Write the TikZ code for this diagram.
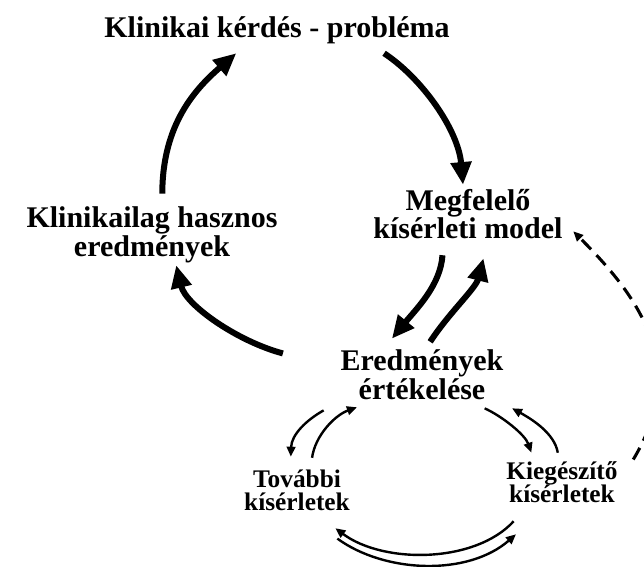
\documentclass[tikz,border=0pt]{standalone}
\usepackage{fontspec}
\setmainfont{Liberation Serif}
\usetikzlibrary{arrows.meta}
\begin{document}
\begin{tikzpicture}[x=0.75pt,y=-0.75pt,
  lbl/.style={font=\bfseries\fontsize{22.5}{18.75}\selectfont,align=center,inner sep=0pt},
  sml/.style={font=\bfseries\fontsize{19}{17.5}\selectfont,align=center,inner sep=0pt},
  bigarr/.style={line width=4.5pt,-{Triangle[length=17pt,width=15pt]}},
  smlarr/.style={line width=1.8pt,-{Triangle[length=7.5pt,width=6.5pt]}},
  dsharr/.style={line width=2.3pt,dash pattern=on 10pt off 6pt,-{Triangle[length=7.5pt,width=6.5pt]}}]
\useasboundingbox (0,0) rectangle (644,567);\clip (0,0) rectangle (644,567);
\node[lbl,minimum width=271.5pt,minimum height=25.5pt] (title) at (277,30) {Klinikai kérdés - probléma};
\node[lbl,minimum width=192pt,minimum height=40.5pt] (useful) at (152,235) {Klinikailag hasznos\\eredmények};
\node[lbl,minimum width=150pt,minimum height=40.5pt] (model) at (468,214) {Megfelelő\\kísérleti model};
\node[lbl,minimum width=129pt,minimum height=40.5pt] (eval) at (422,375) {Eredmények\\értékelése};
\node[sml,minimum width=87pt,minimum height=36pt] (further) at (297,490) {További\\kísérletek};
\node[sml,minimum width=90pt,minimum height=36pt] (extra) at (562,482) {Kiegészítő\\kísérletek};
\draw[bigarr,shorten <=8.2pt,shorten >=1.5pt] (title.-10) .. controls +(47,31) and +(-5,-57) .. (model.100);
\draw[bigarr,shorten <=9.8pt,shorten >=6.8pt] (useful.70) .. controls +(0,-83) and +(-47,41) .. (title.-153);
\draw[bigarr,shorten <=41pt,shorten >=1.5pt] (eval.175) .. controls +(-98,-26) and +(10,42) .. (useful.-50);
\draw[bigarr,shorten <=10.5pt,shorten >=8.8pt] (model.-132) .. controls +(-3,44) and +(32,-39) .. (eval.144);
\draw[bigarr,shorten <=5.3pt,shorten >=13.2pt] (eval.81) .. controls +(22,-34) and +(-12,47) .. (model.-54);
\draw[smlarr,shorten <=12.4pt,shorten >=6.8pt] (eval.-162) .. controls +(-32,18) and +(1,-31) .. (further.105);
\draw[smlarr,shorten <=6pt,shorten >=11pt] (further.60) .. controls +(4,-30) and +(-36,13) .. (eval.-152);
\draw[smlarr,shorten <=11.1pt,shorten >=4pt] (eval.-29) .. controls +(31,14) and +(-8,-23) .. (extra.140);
\draw[smlarr,shorten <=3.8pt,shorten >=9.3pt] (extra.98) .. controls +(-4,-25) and +(29,16) .. (eval.-19);
\draw[smlarr,shorten <=15.2pt,shorten >=17.5pt] (extra.-145) .. controls +(-52,57) and +(67,50) .. (further.-51);
\draw[smlarr,shorten <=31pt,shorten >=31.9pt] (further.-74) .. controls +(81,59) and +(-80,70) .. (extra.-120);
\draw[dsharr,shorten <=16pt,shorten >=5.3pt] (extra.4) .. controls +(68,-113) and +(69,69) .. (model.-7);
\end{tikzpicture}
\end{document}
